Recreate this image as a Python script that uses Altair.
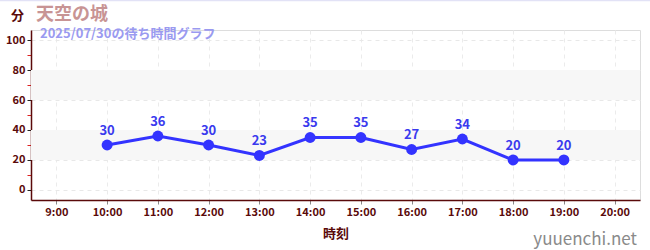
import altair as alt
import pandas as pd

# Waiting times (minutes) by hour of day
hours = [10, 11, 12, 13, 14, 15, 16, 17, 18, 19]
waits = [30, 36, 30, 23, 35, 35, 27, 34, 20, 20]

# Shaded horizontal bands
band_lo = [20, 60]
band_hi = [40, 80]

hour_ticks = list(range(9, 21))
y_ticks = list(range(0, 101, 10))

FONT = "Noto Sans CJK JP"
AXIS_COLOR = "#5a0a0a"
LINE_COLOR = "#3333ff"

W, H = 609, 170

df = pd.DataFrame({"hour": hours, "wait": waits})
bands = pd.DataFrame({"lo": band_lo, "hi": band_hi})

x_scale = alt.Scale(domain=[8.5, 20.5], nice=False, zero=False)
y_scale = alt.Scale(domain=[-6.67, 106.67], nice=False, zero=False)

x_axis = alt.Axis(
    values=hour_ticks,
    labelExpr="datum.value + ':00'",
    title="時刻",
    titleFont=FONT,
    titleFontSize=13,
    titleFontWeight="bold",
    titleColor=AXIS_COLOR,
    titlePadding=10,
    labelFont=FONT,
    labelFontSize=11,
    labelColor=AXIS_COLOR,
    labelFontWeight="bold",
    domainColor=AXIS_COLOR,
    domainWidth=1.5,
    tickColor="#888888",
    tickSize=4,
    grid=True,
    gridColor="#ebebeb",
    gridDash=[4, 4],
)

y_axis = alt.Axis(
    values=y_ticks,
    title=None,
    labelExpr="datum.value % 20 == 0 ? datum.value : ''",
    labelFont=FONT,
    labelFontSize=11,
    labelColor=AXIS_COLOR,
    labelFontWeight="bold",
    domainColor=AXIS_COLOR,
    domainWidth=1.5,
    tickColor={"condition": {"test": "datum.value % 20 == 0", "value": "#222222"}, "value": "#dd2222"},
    tickSize=4,
    grid=True,
    gridColor="#e8e8e8",
    gridDash=[4, 4],
    gridOpacity={"condition": {"test": "datum.value % 20 == 0", "value": 1}, "value": 0},
)

band_layer = alt.Chart(bands).mark_rect(color="#f7f7f7").encode(
    x=alt.value(0),
    x2=alt.value(W),
    y=alt.Y("lo:Q", scale=y_scale, axis=y_axis),
    y2="hi:Q",
)

base = alt.Chart(df).encode(
    x=alt.X("hour:Q", scale=x_scale, axis=x_axis),
    y=alt.Y("wait:Q", scale=y_scale, axis=y_axis),
)

line = base.mark_line(color=LINE_COLOR, strokeWidth=3)
points = base.mark_circle(color=LINE_COLOR, size=120, opacity=1)
labels = base.mark_text(
    dy=-14, font=FONT, fontSize=13, fontWeight="bold", color="#3a3aee"
).encode(text="wait:Q")

# Titles, unit label, site name and top border around the plot area
deco = pd.DataFrame({"k": [0]})
top_border = alt.Chart(deco).mark_rule(color="#e2e2f6", strokeWidth=1.5).encode(
    x=alt.value(-31), x2=alt.value(W + 10), y=alt.value(-29.5)
)
title = alt.Chart(deco).mark_text(
    text="天空の城", font=FONT, fontSize=18, fontWeight="bold", color="#c89494",
    align="left", baseline="alphabetic",
).encode(x=alt.value(5), y=alt.value(-10))
subtitle = alt.Chart(deco).mark_text(
    text="2025/07/30の待ち時間グラフ", font=FONT, fontSize=13, fontWeight="bold",
    color="#9a9af0", align="left", baseline="alphabetic",
).encode(x=alt.value(9), y=alt.value(7.5))
unit = alt.Chart(deco).mark_text(
    text="分", font=FONT, fontSize=13, fontWeight="bold", color=AXIS_COLOR,
    align="left", baseline="alphabetic",
).encode(x=alt.value(-20), y=alt.value(-10))
site = alt.Chart(deco).mark_text(
    text="yuuenchi.net", font=FONT, fontSize=17, color="#8a8a8a",
    align="right", baseline="alphabetic",
).encode(x=alt.value(W - 3), y=alt.value(H + 45))

chart = alt.layer(
    band_layer, line, points, labels, top_border, title, subtitle, unit, site
).properties(
    width=W,
    height=H,
    autosize=alt.AutoSizeParams(type="none"),
    padding={"left": 31, "top": 30, "right": 10, "bottom": 50},
).configure_view(stroke=None).configure(background="white")

chart.save("out.html", embed_options={"renderer": "svg", "actions": False})
